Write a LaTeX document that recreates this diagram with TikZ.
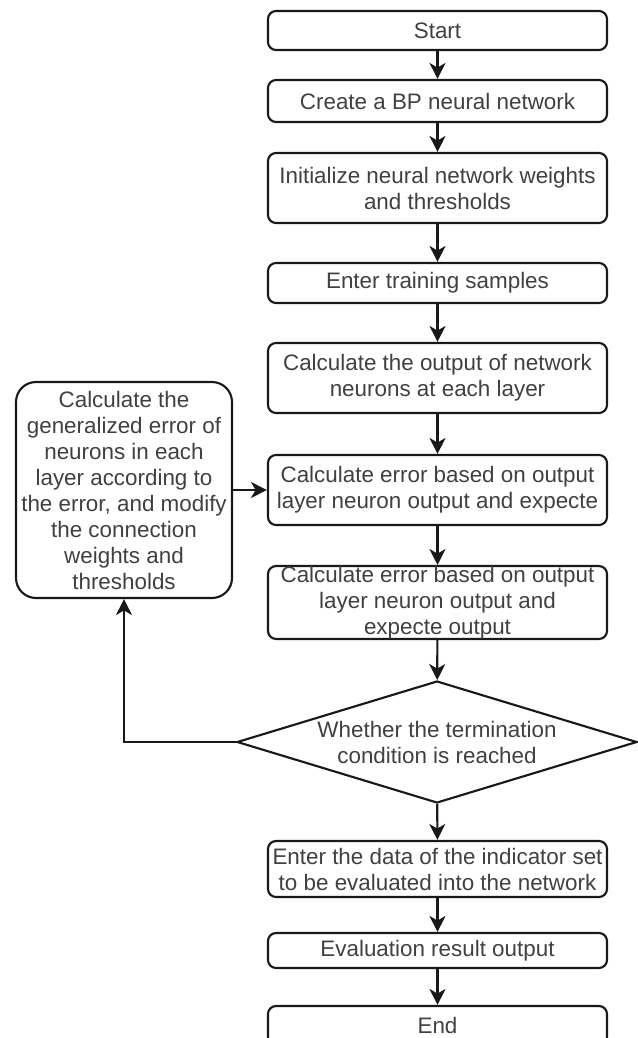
\documentclass[tikz,border=0pt]{standalone}
\usepackage{fontspec}
\setmainfont{Liberation Sans}
\usetikzlibrary{arrows.meta,shapes.geometric}
\begin{document}
\begin{tikzpicture}[x=0.75pt,y=-0.75pt,
  every node/.style={font=\fontsize{16.8}{19.5}\selectfont, text=black!75},
  box/.style={draw=black!90, line width=1.6pt, rounded corners=6pt,
    minimum width=254.25pt, align=center, inner sep=0pt},
  bigbox/.style={draw=black!90, line width=1.6pt, rounded corners=15pt,
    minimum width=162pt, minimum height=162pt, align=center, inner sep=0pt},
  decision/.style={draw=black!90, line width=1.6pt, diamond, aspect=3.28,
    minimum width=300pt, minimum height=91.5pt, align=center, inner sep=0pt},
  arr/.style={draw=black!90, line width=1.6pt, -{Stealth[length=12pt,width=12pt,inset=3.5pt]}}]
\useasboundingbox (0,0) rectangle (638,1038);

% main column of steps
\node[box, minimum height=29.25pt] (start) at (437.5,30.5) {Start};
\node[box, minimum height=31.5pt] (create) at (437.5,101) {Create a BP neural network};
\node[box, minimum height=52.5pt] (init) at (437.5,188) {Initialize neural network weights\\and thresholds};
\node[box, minimum height=30pt] (train) at (437.5,283) {Enter training samples};
\node[box, minimum height=52.5pt] (calcout) at (437.5,378) {Calculate the output of network\\neurons at each layer};
\node[box, minimum height=52.5pt] (err1) at (437.5,490) {Calculate error based on output\\layer neuron output and expecte};
\node[box, minimum height=53.25pt] (err2) at (437.5,602.5) {Calculate error based on output\\layer neuron output and\\expecte output};
\node[decision] (dec) at (437,742) {Whether the termination\\condition is reached};
\node[box, minimum height=42pt] (data) at (437.5,869) {Enter the data of the indicator set\\to be evaluated into the network};
\node[box, minimum height=26.25pt] (eval) at (437.5,950.5) {Evaluation result output};
\node[box, minimum height=29.25pt] (end) at (437.5,1025.5) {End};

% update step on the feedback loop
\node[bigbox] (upd) at (124,490) {Calculate the\\generalized error of\\neurons in each\\layer according to\\the error, and modify\\the connection\\weights and\\thresholds};

% connectors
\draw[arr] (start) -- (create);
\draw[arr] (create) -- (init);
\draw[arr] (init) -- (train);
\draw[arr] (train) -- (calcout);
\draw[arr] (calcout) -- (err1);
\draw[arr] (err1) -- (err2);
\draw[arr] (err2) -- (dec);
\draw[arr] (dec) -- (data);
\draw[arr] (data) -- (eval);
\draw[arr] (eval) -- (end);
\draw[arr] (upd) -- (err1);
\draw[arr] (dec.west) -| (upd.south);
\end{tikzpicture}
\end{document}
